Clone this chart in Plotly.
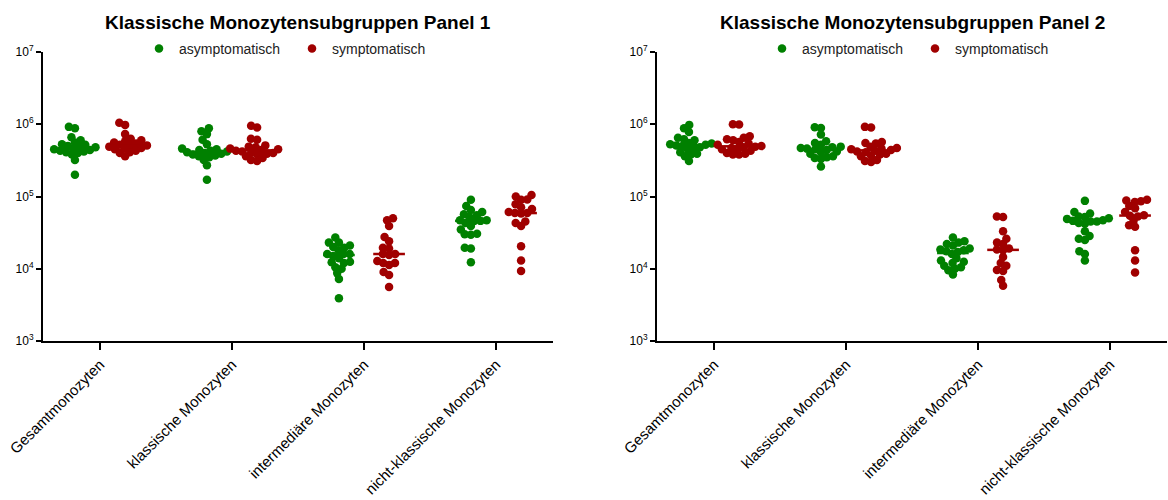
import numpy as np
import plotly.graph_objects as go

categories = ["Gesamtmonozyten", "klassische Monozyten", "intermediäre Monozyten", "nicht-klassische Monozyten"]
series_names = ["asymptomatisch", "symptomatisch"]
titles = ["Klassische Monozytensubgruppen Panel 1", "Klassische Monozytensubgruppen Panel 2"]
y_tick_vals = [1e3, 1e4, 1e5, 1e6, 1e7]
y_tick_text = ["10<sup>3</sup>", "10<sup>4</sup>", "10<sup>5</sup>", "10<sup>6</sup>", "10<sup>7</sup>"]

# Panel 1
p1_asym_gesamt = [9.2e5, 8.8e5, 6.6e5, 6.0e5, 5.2e5, 5.0e5, 4.9e5, 5.3e5, 4.6e5, 4.4e5,
                  4.3e5, 4.8e5, 4.0e5, 3.8e5, 4.2e5, 3.2e5, 2.0e5, 5.6e5, 4.5e5, 4.1e5]
p1_sym_gesamt = [1.05e6, 9.8e5, 7.3e5, 6.3e5, 6.0e5, 5.6e5, 5.4e5, 5.2e5, 5.0e5, 4.9e5,
                 4.7e5, 4.5e5, 4.3e5, 4.1e5, 4.0e5, 3.6e5, 5.8e5, 4.6e5, 5.1e5]
p1_asym_klass = [8.8e5, 8.0e5, 7.3e5, 6.1e5, 5.3e5, 4.6e5, 4.4e5, 4.3e5, 4.2e5, 4.0e5,
                 3.9e5, 3.8e5, 3.7e5, 3.6e5, 4.5e5, 4.1e5, 3.2e5, 2.7e5, 1.7e5, 3.5e5]
p1_sym_klass = [9.5e5, 9.0e5, 6.3e5, 6.1e5, 5.1e5, 4.9e5, 4.8e5, 4.6e5, 4.5e5, 4.4e5,
                4.3e5, 4.2e5, 4.1e5, 4.0e5, 3.9e5, 3.8e5, 3.6e5, 3.4e5, 3.2e5, 3.1e5]
p1_asym_inter = [2.7e4, 2.3e4, 2.0e4, 2.1e4, 2.3e4, 1.95e4, 1.6e4, 1.6e4, 1.8e4, 1.6e4,
                 1.4e4, 1.23e4, 1.2e4, 1.05e4, 1.25e4, 1.0e4, 8.7e3, 7.2e3, 3.9e3, 1.5e4]
p1_sym_inter = [5.0e4, 4.7e4, 3.9e4, 2.75e4, 2.4e4, 1.95e4, 1.9e4, 1.6e4, 1.6e4, 1.55e4,
                1.28e4, 1.2e4, 1.2e4, 1.13e4, 9.0e3, 8.2e3, 5.6e3]
p1_asym_nk = [9.0e4, 7.4e4, 6.5e4, 6.1e4, 5.5e4, 5.7e4, 4.7e4, 4.7e4, 4.6e4, 4.6e4,
              3.9e4, 4.3e4, 3.0e4, 2.95e4, 3.05e4, 3.5e4, 1.95e4, 1.9e4, 1.23e4, 5.2e4]
p1_sym_nk = [1.05e5, 1.0e5, 9.1e4, 9.0e4, 7.8e4, 7.1e4, 6.7e4, 6.1e4, 5.9e4, 5.9e4,
             5.8e4, 4.5e4, 4.3e4, 3.9e4, 2.05e4, 1.3e4, 9.3e3]

# Panel 2
p2_asym_gesamt = [9.8e5, 8.8e5, 7.8e5, 6.5e5, 6.2e5, 6.0e5, 5.5e5, 5.3e5, 5.2e5, 5.1e5,
                  5.0e5, 4.8e5, 4.7e5, 4.5e5, 4.1e5, 3.9e5, 3.8e5, 3.6e5, 3.1e5, 5.4e5]
p2_sym_gesamt = [1.0e6, 9.9e5, 6.8e5, 6.5e5, 6.2e5, 6.0e5, 5.7e5, 5.4e5, 5.2e5, 5.0e5,
                 4.9e5, 4.8e5, 4.7e5, 4.6e5, 4.5e5, 4.3e5, 4.0e5, 3.9e5, 3.8e5, 3.8e5]
p2_asym_klass = [9.1e5, 8.9e5, 7.2e5, 5.8e5, 5.5e5, 5.2e5, 4.9e5, 4.8e5, 4.7e5, 4.5e5,
                 4.4e5, 4.2e5, 4.1e5, 3.9e5, 3.6e5, 3.5e5, 3.4e5, 3.3e5, 2.6e5, 4.6e5]
p2_sym_klass = [9.2e5, 9.0e5, 5.7e5, 5.5e5, 5.4e5, 4.9e5, 4.7e5, 4.6e5, 4.5e5, 4.4e5,
                4.3e5, 4.2e5, 4.1e5, 3.9e5, 3.8e5, 3.7e5, 3.6e5, 3.2e5, 3.1e5, 3.0e5]
p2_asym_inter = [2.7e4, 2.4e4, 2.3e4, 2.2e4, 2.1e4, 1.9e4, 1.8e4, 1.75e4, 1.7e4, 1.6e4,
                 1.4e4, 1.3e4, 1.25e4, 1.2e4, 1.1e4, 1.05e4, 1.0e4, 9.5e3, 8.3e3, 1.85e4]
p2_sym_inter = [5.3e4, 5.2e4, 3.3e4, 2.6e4, 2.3e4, 2.2e4, 1.9e4, 1.85e4, 1.8e4, 1.45e4,
                1.2e4, 1.1e4, 9.6e3, 9.3e3, 7.0e3, 5.8e3]
p2_asym_nk = [8.7e4, 6.1e4, 5.8e4, 5.3e4, 5.2e4, 5.0e4, 4.9e4, 4.7e4, 4.6e4, 4.5e4,
              4.5e4, 4.3e4, 4.2e4, 3.3e4, 2.85e4, 2.6e4, 2.5e4, 1.75e4, 1.6e4, 1.3e4]
p2_sym_nk = [9.0e4, 8.8e4, 8.6e4, 8.4e4, 7.4e4, 6.9e4, 6.1e4, 5.5e4, 5.4e4, 5.3e4,
             4.6e4, 4.0e4, 3.8e4, 1.8e4, 1.3e4, 8.9e3]

panels = [
    [[p1_asym_gesamt, p1_asym_klass, p1_asym_inter, p1_asym_nk],
     [p1_sym_gesamt, p1_sym_klass, p1_sym_inter, p1_sym_nk]],
    [[p2_asym_gesamt, p2_asym_klass, p2_asym_inter, p2_asym_nk],
     [p2_sym_gesamt, p2_sym_klass, p2_sym_inter, p2_sym_nk]],
]

colors = ["#008000", "#A00000"]
FONT = "Arial, Liberation Sans, sans-serif"
PX_PER_DECADE = 72.5
PX_PER_CAT = 132.0
DOT = 8.5
COLLIDE = 6.2
GROUP_OFFSET = 0.19
MEDIAN_HALF = 0.12


def swarm_offsets(vals, d=COLLIDE):
    ys = [np.log10(v) * PX_PER_DECADE for v in vals]
    order = np.argsort(ys)
    placed = []
    offs = [0.0] * len(vals)
    for i in order:
        y = ys[i]
        cands = [0.0]
        for (px, py) in placed:
            dy = abs(py - y)
            if dy < d:
                dx = np.sqrt(d * d - dy * dy)
                cands += [px + dx, px - dx]
        cands.sort(key=lambda c: (abs(c), c))
        for c in cands:
            if all((c - px) ** 2 + (y - py) ** 2 >= d * d - 1e-6 for px, py in placed):
                offs[i] = c
                placed.append((c, y))
                break
    return [o / PX_PER_CAT for o in offs]


fig = go.Figure()
x_range = [-0.432, 3.432]

for p, panel in enumerate(panels):
    xa = "x" if p == 0 else "x2"
    ya = "y" if p == 0 else "y2"
    leg = "legend" if p == 0 else "legend2"
    for s, groups in enumerate(panel):
        side = -GROUP_OFFSET if s == 0 else GROUP_OFFSET
        xs, ys = [], []
        mx, my = [], []
        for c, vals in enumerate(groups):
            offs = swarm_offsets(vals)
            center = c + side
            xs += [center + o for o in offs]
            ys += list(vals)
            med = float(np.median(vals))
            mx += [center - MEDIAN_HALF, center + MEDIAN_HALF, None]
            my += [med, med, None]
        fig.add_trace(go.Scatter(
            x=xs, y=ys, mode="markers", name=series_names[s],
            marker=dict(color=colors[s], size=DOT, line=dict(width=0)),
            xaxis=xa, yaxis=ya, legend=leg, showlegend=True,
        ))
        fig.add_trace(go.Scatter(
            x=mx, y=my, mode="lines", line=dict(color=colors[s], width=2.5),
            xaxis=xa, yaxis=ya, showlegend=False, hoverinfo="skip",
        ))

axis_common_x = dict(
    range=x_range, tickmode="array", tickvals=[0, 1, 2, 3], ticktext=categories,
    tickangle=-45, ticks="outside", ticklen=7, tickwidth=1.5, tickcolor="black",
    showline=True, linecolor="black", linewidth=2, showgrid=False, zeroline=False,
    automargin=False,
    tickfont=dict(family=FONT, size=15, color="black"),
)
axis_common_y = dict(
    type="log", range=[3, 7], tickmode="array", tickvals=y_tick_vals, ticktext=y_tick_text,
    ticks="outside", ticklen=5, tickwidth=1.5, tickcolor="black",
    showline=True, linecolor="black", linewidth=2, showgrid=False, zeroline=False,
    automargin=False,
    tickfont=dict(family=FONT, size=12, color="black"),
)

W, H = 1168, 500
ydom = [1 - 341 / H, 1 - 52 / H]

fig.update_layout(
    width=W, height=H, margin=dict(l=0, r=0, t=0, b=0, autoexpand=False),
    paper_bgcolor="white", plot_bgcolor="white",
    font=dict(family=FONT, color="black"),
    xaxis=dict(domain=[43 / W, 553 / W], anchor="y", **axis_common_x),
    yaxis=dict(domain=ydom, anchor="x", **axis_common_y),
    xaxis2=dict(domain=[657 / W, 1167 / W], anchor="y2", **axis_common_x),
    yaxis2=dict(domain=ydom, anchor="x2", **axis_common_y),
    legend=dict(orientation="h", x=139 / W, y=1 - 49 / H, xanchor="left", yanchor="middle",
                entrywidth=108, entrywidthmode="pixels",
                font=dict(family=FONT, size=14, color="#222"), bgcolor="rgba(0,0,0,0)"),
    legend2=dict(orientation="h", x=(139 + 623) / W, y=1 - 49 / H, xanchor="left", yanchor="middle",
                 entrywidth=108, entrywidthmode="pixels",
                 font=dict(family=FONT, size=14, color="#222"), bgcolor="rgba(0,0,0,0)"),
    showlegend=True,
    annotations=[
        dict(text="<b>" + titles[0] + "</b>", x=298 / W, y=1 - 22 / H, xref="paper", yref="paper",
             showarrow=False, xanchor="center", yanchor="middle",
             font=dict(family=FONT, size=19, color="black")),
        dict(text="<b>" + titles[1] + "</b>", x=912 / W, y=1 - 22 / H, xref="paper", yref="paper",
             showarrow=False, xanchor="center", yanchor="middle",
             font=dict(family=FONT, size=19, color="black")),
    ],
)

fig.write_html("out.html")
